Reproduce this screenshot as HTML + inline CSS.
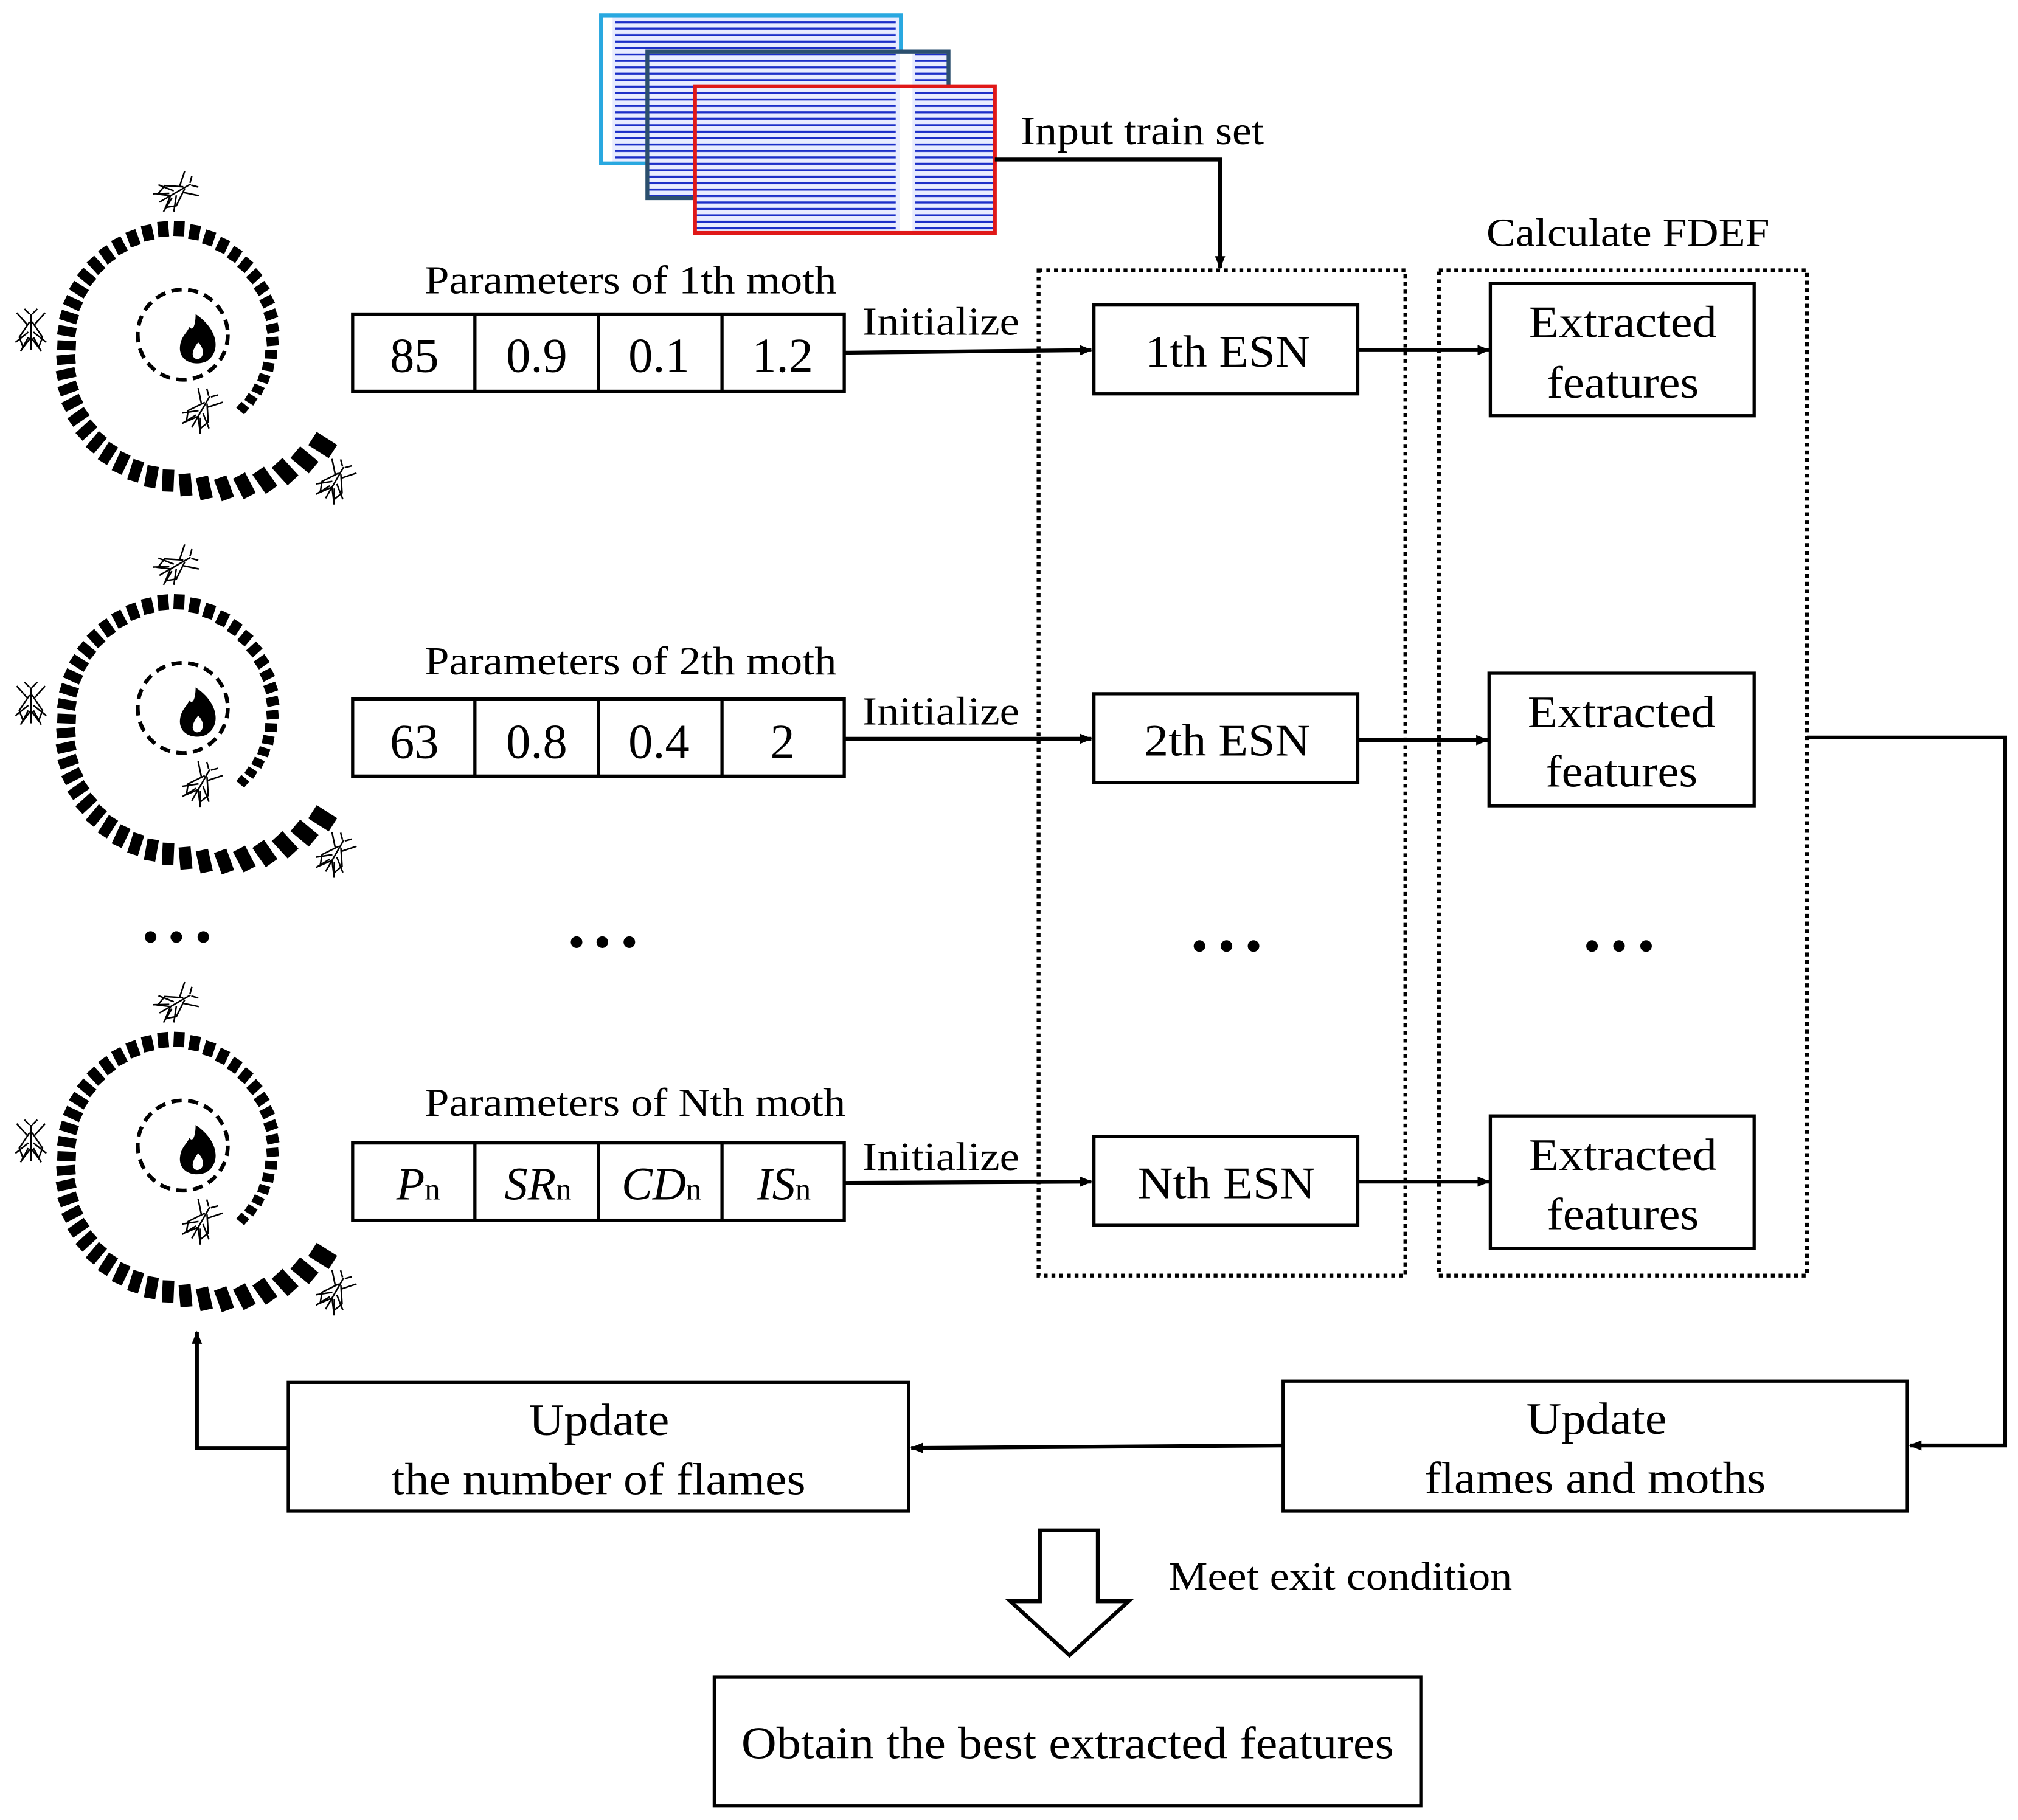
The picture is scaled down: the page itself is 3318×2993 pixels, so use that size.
<!DOCTYPE html>
<html><head><meta charset="utf-8">
<style>
html,body{margin:0;padding:0;background:#fff;}
svg{display:block;}
text{font-family:"Liberation Serif",serif;fill:#000;}
</style></head>
<body>
<svg id="s" width="3318" height="2993" viewBox="0 0 1568 1414" preserveAspectRatio="none" xmlns="http://www.w3.org/2000/svg">
<defs>
<marker id="ar" markerWidth="10" markerHeight="10" refX="9" refY="5" orient="auto" markerUnits="userSpaceOnUse">
<path d="M0,1 L10,5 L0,9 z" fill="#000"/></marker>
<pattern id="eeg" width="233" height="5" patternUnits="userSpaceOnUse">
<rect width="233" height="5" fill="#e8ecff"/>
<rect x="12" y="1.5" width="218" height="1.6" fill="#1c2fc8"/>
<rect x="0" y="0" width="10" height="5" fill="#fff"/>
</pattern>
</defs>

<rect x="467" y="12" width="233" height="115" fill="url(#eeg)" stroke="#29a8e0" stroke-width="3"/>
<rect x="503" y="40" width="234" height="114" fill="url(#eeg)" stroke="#2b4f6e" stroke-width="3"/>
<rect x="540" y="67" width="233" height="114" fill="url(#eeg)" stroke="#e01818" stroke-width="3"/>
<text x="793" y="112" font-size="31" textLength="189" lengthAdjust="spacingAndGlyphs">Input train set</text>
<polyline points="773,124 948,124 948,208" fill="none" stroke="#000" stroke-width="3" marker-end="url(#ar)"/>

<text x="1155" y="191" font-size="31" textLength="220" lengthAdjust="spacingAndGlyphs">Calculate FDEF</text>
<rect x="807" y="210" width="285" height="781" fill="none" stroke="#000" stroke-width="3" stroke-dasharray="3,3"/>
<rect x="1118" y="210" width="286" height="781" fill="none" stroke="#000" stroke-width="3" stroke-dasharray="3,3"/>

<g fill="#fff" stroke="#000" stroke-width="2.5">
<rect x="850" y="237" width="205" height="69"/>
<rect x="850" y="539" width="205" height="69"/>
<rect x="850" y="883" width="205" height="69"/>
<rect x="1158" y="220" width="205" height="103"/>
<rect x="1157" y="523" width="206" height="103"/>
<rect x="1158" y="867" width="205" height="103"/>
</g>
<g font-size="35" lengthAdjust="spacingAndGlyphs">
<text x="890" y="285" textLength="128" lengthAdjust="spacingAndGlyphs">1th ESN</text>
<text x="889" y="587" textLength="129" lengthAdjust="spacingAndGlyphs">2th ESN</text>
<text x="884" y="931" textLength="138" lengthAdjust="spacingAndGlyphs">Nth ESN</text>
<text x="1188" y="262" textLength="146" lengthAdjust="spacingAndGlyphs">Extracted</text><text x="1202" y="309" textLength="118" lengthAdjust="spacingAndGlyphs">features</text>
<text x="1187" y="565" textLength="146" lengthAdjust="spacingAndGlyphs">Extracted</text><text x="1201" y="611" textLength="118" lengthAdjust="spacingAndGlyphs">features</text>
<text x="1188" y="909" textLength="146" lengthAdjust="spacingAndGlyphs">Extracted</text><text x="1202" y="955" textLength="118" lengthAdjust="spacingAndGlyphs">features</text>
</g>
<g stroke="#000" stroke-width="3" fill="none" marker-end="url(#ar)">
<line x1="1055" y1="272" x2="1157" y2="272"/>
<line x1="1055" y1="575" x2="1156" y2="575"/>
<line x1="1055" y1="918" x2="1157" y2="918"/>
<line x1="656" y1="274" x2="848" y2="272"/>
<line x1="656" y1="574" x2="848" y2="574"/>
<line x1="656" y1="919" x2="848" y2="918"/>
<polyline points="1404,573 1558,573 1558,1123 1484,1123"/>
<line x1="997" y1="1123" x2="708" y2="1125"/>
<polyline points="224,1125 153,1125 153,1035"/>
</g>

<g font-size="31">
<text x="330" y="228" textLength="320" lengthAdjust="spacingAndGlyphs">Parameters of 1th moth</text>
<text x="330" y="524" textLength="320" lengthAdjust="spacingAndGlyphs">Parameters of 2th moth</text>
<text x="330" y="867" textLength="327" lengthAdjust="spacingAndGlyphs">Parameters of Nth moth</text>
<text x="670" y="260" textLength="122" lengthAdjust="spacingAndGlyphs">Initialize</text>
<text x="670" y="563" textLength="122" lengthAdjust="spacingAndGlyphs">Initialize</text>
<text x="670" y="909" textLength="122" lengthAdjust="spacingAndGlyphs">Initialize</text>
</g>
<g fill="#fff" stroke="#000" stroke-width="2.5">
<rect x="274" y="244" width="382" height="60"/>
<rect x="274" y="543" width="382" height="60"/>
<rect x="274" y="888" width="382" height="60"/>
</g>
<g stroke="#000" stroke-width="2.5">
<line x1="369" y1="244" x2="369" y2="304"/><line x1="465" y1="244" x2="465" y2="304"/><line x1="561" y1="244" x2="561" y2="304"/>
<line x1="369" y1="543" x2="369" y2="603"/><line x1="465" y1="543" x2="465" y2="603"/><line x1="561" y1="543" x2="561" y2="603"/>
<line x1="369" y1="888" x2="369" y2="948"/><line x1="465" y1="888" x2="465" y2="948"/><line x1="561" y1="888" x2="561" y2="948"/>
</g>
<g font-size="38" text-anchor="middle">
<text x="322" y="289">85</text><text x="417" y="289">0.9</text><text x="512" y="289">0.1</text><text x="608" y="289">1.2</text>
<text x="322" y="589">63</text><text x="417" y="589">0.8</text><text x="512" y="589">0.4</text><text x="608" y="589">2</text>
</g>
<g font-size="36" text-anchor="middle" font-style="italic">
<text x="325" y="932">P<tspan font-style="normal" font-size="24">n</tspan></text>
<text x="418" y="932">SR<tspan font-style="normal" font-size="24">n</tspan></text>
<text x="514" y="932">CD<tspan font-style="normal" font-size="24">n</tspan></text>
<text x="609" y="932">IS<tspan font-style="normal" font-size="24">n</tspan></text>
</g>

<g fill="#000">
<circle cx="117" cy="728" r="4.5"/><circle cx="137" cy="728" r="4.5"/><circle cx="158" cy="728" r="4.5"/>
<circle cx="448" cy="732" r="4.5"/><circle cx="468" cy="732" r="4.5"/><circle cx="489" cy="732" r="4.5"/>
<circle cx="932" cy="735" r="4.5"/><circle cx="953" cy="735" r="4.5"/><circle cx="974" cy="735" r="4.5"/>
<circle cx="1237" cy="735" r="4.5"/><circle cx="1258" cy="735" r="4.5"/><circle cx="1279" cy="735" r="4.5"/>
</g>

<g fill="#fff" stroke="#000" stroke-width="2.5">
<rect x="224" y="1074" width="482" height="100"/>
<rect x="997" y="1073" width="485" height="101"/>
<rect x="555" y="1303" width="549" height="100"/>
</g>
<g font-size="35">
<text x="411" y="1115" textLength="109" lengthAdjust="spacingAndGlyphs">Update</text><text x="304" y="1161" textLength="322" lengthAdjust="spacingAndGlyphs">the number of flames</text>
<text x="1186" y="1114" textLength="109" lengthAdjust="spacingAndGlyphs">Update</text><text x="1107" y="1160" textLength="265" lengthAdjust="spacingAndGlyphs">flames and moths</text>
<text x="576" y="1366" textLength="507" lengthAdjust="spacingAndGlyphs">Obtain the best extracted features</text>
</g>
<path d="M808,1189 L853,1189 L853,1244 L877,1244 L831,1286 L785,1244 L808,1244 Z" fill="#fff" stroke="#000" stroke-width="3"/>
<text x="908" y="1235" font-size="31" textLength="267" lengthAdjust="spacingAndGlyphs">Meet exit condition</text>

<g id="spirals"></g>
</svg>
<script>
(function(){
var NS="http://www.w3.org/2000/svg",g=document.getElementById("spirals");
function el(n,a){var e=document.createElementNS(NS,n);for(var k in a)e.setAttribute(k,a[k]);g.appendChild(e);return e;}
function moth(x,y,rot){
 var gg=document.createElementNS(NS,"g");gg.setAttribute("transform","translate("+x+","+y+") rotate("+rot+")");gg.setAttribute("stroke","#000");gg.setAttribute("fill","none");gg.setAttribute("stroke-width","1.2");
 ["M0,-14 L0,14","M-3,-6 L-11,-15","M3,-6 L11,-15","M-2,0 L-12,8","M2,0 L12,8","M-2,4 L-8,15","M2,4 L8,15","M-1,-14 L-5,-18","M1,-14 L5,-18"].forEach(function(p){var e=document.createElementNS(NS,"path");e.setAttribute("d",p);gg.appendChild(e);});
 var o=document.createElementNS(NS,"path");o.setAttribute("d","M-1,-8 L-9,4 L-6,12 L0,4 L6,12 L9,4 L1,-8");gg.appendChild(o);
 g.appendChild(gg);
}
var T=[0,40,130,220,310,372],R=[70,76,95,83,102,140];
function rad(t){for(var i=0;i<T.length-1;i++){if(t<=T[i+1]){var f=(t-T[i])/(T[i+1]-T[i]);return R[i]+f*(R[i+1]-R[i]);}}return R[R.length-1];}
[0,290,630].forEach(function(dy){
 var cx=135,cy=272+dy,total=372,step=7.5;
 for(var t=0;t<total;t+=step){
  var r=rad(t),ang=(40-t)*Math.PI/180;
  var x=cx+r*Math.cos(ang),y=cy+r*Math.sin(ang);
  var w=8+11*(t/total), len=r*step*Math.PI/180*0.68;
  el("rect",{x:-len/2,y:-w/2,width:len,height:w,fill:"#000",transform:"translate("+x+","+y+") rotate("+((40-t)+90)+")"});
 }
 el("circle",{cx:142,cy:260+dy,r:35,fill:"none",stroke:"#000","stroke-width":3,"stroke-dasharray":"8,5"});
 var b=dy;
 el("path",{d:"M152,"+(244+b)+" C170,"+(256+b)+" 172,"+(274+b)+" 160,"+(281+b)+" C150,"+(285+b)+" 138,"+(280+b)+" 140,"+(268+b)+" C141,"+(261+b)+" 146,"+(258+b)+" 147,"+(254+b)+" C150,"+(258+b)+" 152,"+(252+b)+" 152,"+(244+b)+" Z",fill:"#000"});
 el("path",{d:"M154,"+(266+b)+" C160,"+(272+b)+" 158,"+(279+b)+" 153,"+(279+b)+" C148,"+(278+b)+" 149,"+(272+b)+" 154,"+(266+b)+" Z",fill:"#fff"});
 moth(136,150+dy,60);moth(24,258+dy,0);moth(156,320+dy,30);moth(260,375+dy,30);
});
})();
</script>
</body></html>
